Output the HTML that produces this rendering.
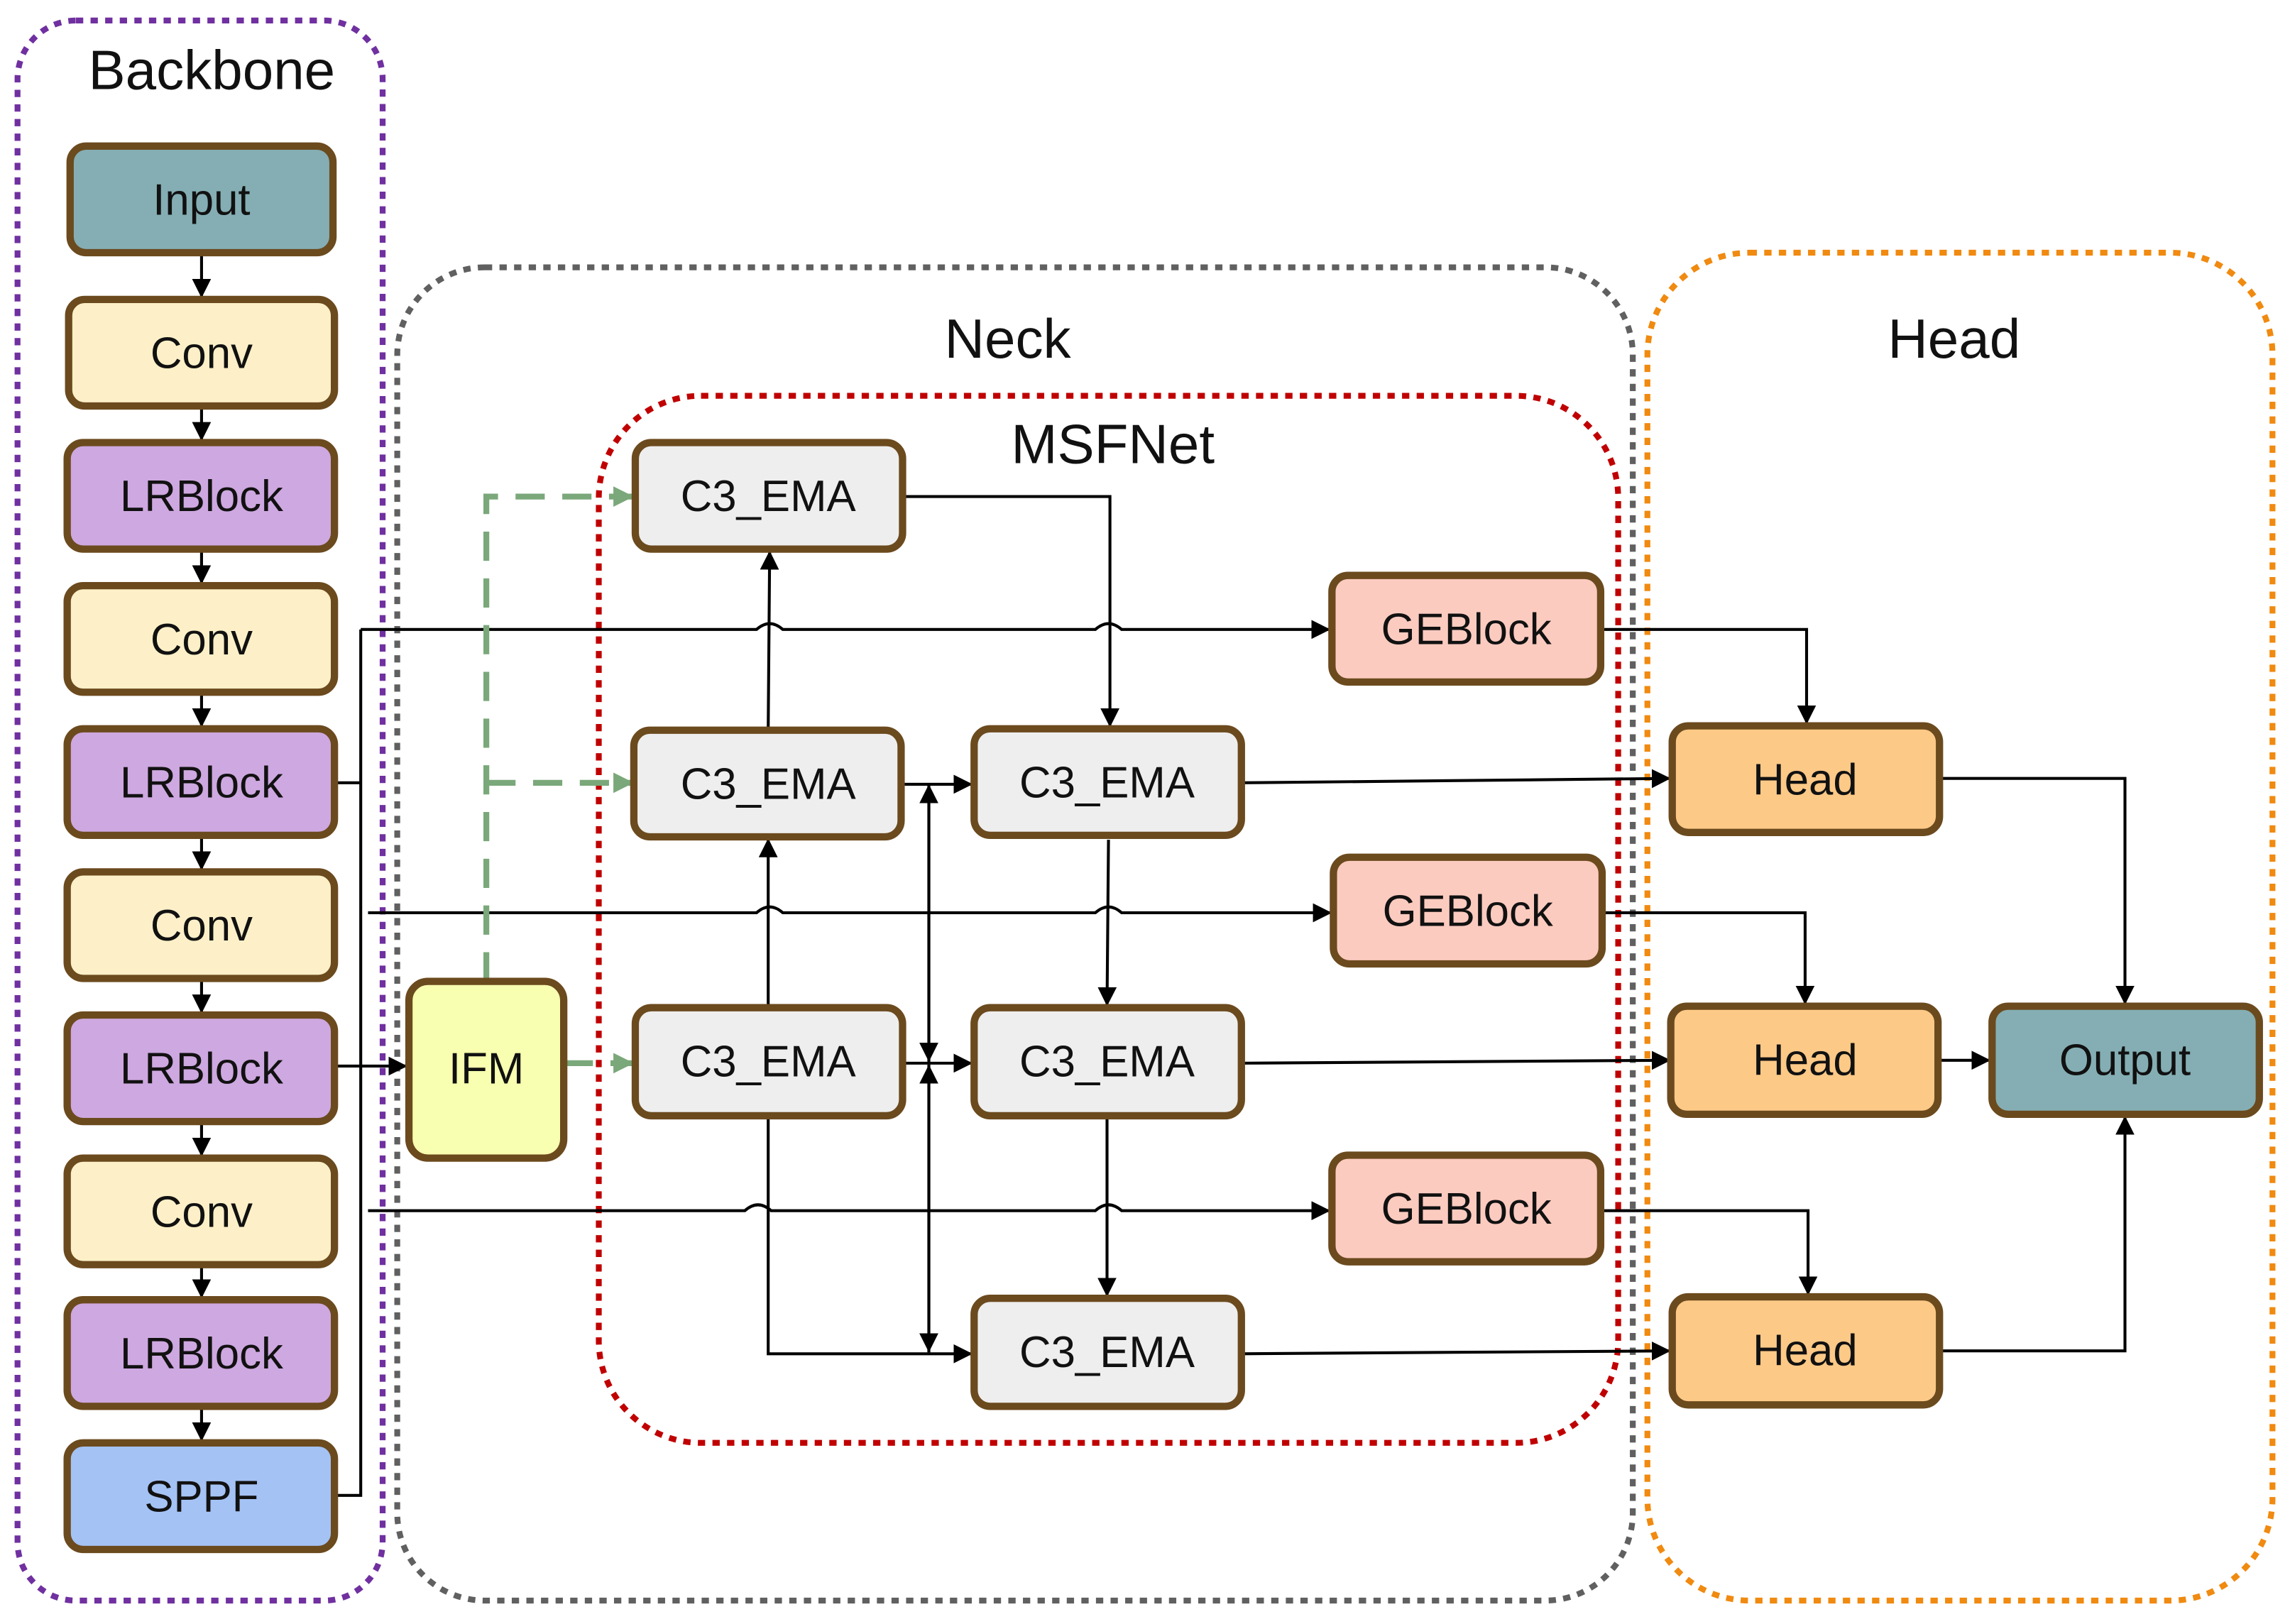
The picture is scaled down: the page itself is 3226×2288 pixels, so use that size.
<!DOCTYPE html>
<html><head><meta charset="utf-8"><style>
html,body{margin:0;padding:0;background:#fff}
svg{display:block}
text{font-family:"Liberation Sans",sans-serif;fill:#111}
</style></head><body>
<svg width="3226" height="2288" viewBox="0 0 1568 1112" xmlns="http://www.w3.org/2000/svg">
<defs>
<marker id="a" viewBox="0 0 10 10" refX="10" refY="5" markerWidth="13" markerHeight="13" markerUnits="userSpaceOnUse" orient="auto"><path d="M0,0L10,5L0,10z" fill="#000"/></marker>
<marker id="g" viewBox="0 0 10 10" refX="10" refY="5" markerWidth="14" markerHeight="14" markerUnits="userSpaceOnUse" orient="auto"><path d="M0,0L10,5L0,10z" fill="#7aa87a"/></marker>
</defs>
<rect x="12" y="14" width="250" height="1082" rx="40" fill="none" stroke="#7030a0" stroke-width="4" stroke-dasharray="5,5"/>
<rect x="272" y="183" width="846" height="913" rx="60" fill="none" stroke="#606060" stroke-width="4" stroke-dasharray="5,5"/>
<rect x="1128" y="173" width="428" height="923" rx="70" fill="none" stroke="#f08a10" stroke-width="4" stroke-dasharray="5,5"/>
<rect x="410" y="271" width="698" height="717" rx="70" fill="none" stroke="#c00000" stroke-width="4" stroke-dasharray="5,5"/>
<text x="145" y="61" font-size="38" text-anchor="middle">Backbone</text>
<text x="690" y="245" font-size="38" text-anchor="middle">Neck</text>
<text x="1338" y="245" font-size="38" text-anchor="middle">Head</text>
<text x="762" y="317" font-size="38" text-anchor="middle">MSFNet</text>

<g fill="none" stroke="#000" stroke-width="2">
<line x1="138" y1="173" x2="138" y2="204" marker-end="url(#a)"/>
<line x1="138" y1="278" x2="138" y2="302" marker-end="url(#a)"/>
<line x1="138" y1="376" x2="138" y2="400" marker-end="url(#a)"/>
<line x1="138" y1="474" x2="138" y2="498" marker-end="url(#a)"/>
<line x1="138" y1="572" x2="138" y2="596" marker-end="url(#a)"/>
<line x1="138" y1="670" x2="138" y2="694" marker-end="url(#a)"/>
<line x1="138" y1="768" x2="138" y2="792" marker-end="url(#a)"/>
<line x1="138" y1="866" x2="138" y2="889" marker-end="url(#a)"/>
<line x1="138" y1="963" x2="138" y2="987" marker-end="url(#a)"/>
<polyline points="229,536 247,536"/>
<polyline points="229,1024 247,1024 247,431"/>
<line x1="229" y1="730" x2="279" y2="730" marker-end="url(#a)"/>
<path d="M247,431 H518 Q527,423 536,431 H750 Q759,423 768,431 H911" marker-end="url(#a)"/>
<path d="M252,625 H518 Q527,617 536,625 H750 Q759,617 768,625 H912" marker-end="url(#a)"/>
<path d="M252,829 H510 Q519,821 528,829 H750 Q759,821 768,829 H911" marker-end="url(#a)"/>
<line x1="526" y1="500" x2="527" y2="377" marker-end="url(#a)"/>
<line x1="526" y1="690" x2="526" y2="574" marker-end="url(#a)"/>
<polyline points="618,340 760,340 760,498" marker-end="url(#a)"/>
<line x1="618" y1="537" x2="666" y2="537" marker-end="url(#a)"/>
<line x1="618" y1="728" x2="666" y2="728" marker-end="url(#a)"/>
<polyline points="526,764 526,927 666,927" marker-end="url(#a)"/>
<line x1="636" y1="727" x2="636" y2="537" marker-end="url(#a)"/>
<line x1="636" y1="537" x2="636" y2="727" marker-end="url(#a)"/>
<line x1="636" y1="729" x2="636" y2="926" marker-end="url(#a)"/>
<line x1="636" y1="926" x2="636" y2="729" marker-end="url(#a)"/>
<line x1="759" y1="575" x2="758" y2="689" marker-end="url(#a)"/>
<line x1="758" y1="764" x2="758" y2="888" marker-end="url(#a)"/>
<line x1="850" y1="536" x2="1144" y2="533" marker-end="url(#a)"/>
<line x1="850" y1="728" x2="1144" y2="726" marker-end="url(#a)"/>
<line x1="850" y1="927" x2="1144" y2="925" marker-end="url(#a)"/>
<polyline points="1096,431 1237,431 1237,496" marker-end="url(#a)"/>
<polyline points="1096,625 1236,625 1236,688" marker-end="url(#a)"/>
<polyline points="1096,829 1238,829 1238,887" marker-end="url(#a)"/>
<polyline points="1328,533 1455,533 1455,688" marker-end="url(#a)"/>
<line x1="1328" y1="726" x2="1363" y2="726" marker-end="url(#a)"/>
<polyline points="1328,925 1455,925 1455,764" marker-end="url(#a)"/>
</g>
<g fill="none" stroke="#7aa87a" stroke-width="4" stroke-dasharray="20,12">
<polyline points="333,672 333,340 434,340" marker-end="url(#g)"/>
<polyline points="333,536 434,536" marker-end="url(#g)"/>
<line x1="386" y1="728" x2="434" y2="728" marker-end="url(#g)"/>
</g>

<g stroke="#6b4a1e" stroke-width="5">
<rect x="48" y="100" width="180" height="73" rx="11" fill="#84aeb3"/>
<rect x="47" y="205" width="182" height="73" rx="11" fill="#fdf0c8"/>
<rect x="46" y="303" width="183" height="73" rx="11" fill="#cea8e0"/>
<rect x="46" y="401" width="183" height="73" rx="11" fill="#fdf0c8"/>
<rect x="46" y="499" width="183" height="73" rx="11" fill="#cea8e0"/>
<rect x="46" y="597" width="183" height="73" rx="11" fill="#fdf0c8"/>
<rect x="46" y="695" width="183" height="73" rx="11" fill="#cea8e0"/>
<rect x="46" y="793" width="183" height="73" rx="11" fill="#fdf0c8"/>
<rect x="46" y="890" width="183" height="73" rx="11" fill="#cea8e0"/>
<rect x="46" y="988" width="183" height="73" rx="11" fill="#a4c2f4"/>
<rect x="280" y="672" width="106" height="121" rx="13" fill="#f8ffb0"/>
<rect x="435" y="303" width="183" height="73" rx="11" fill="#eeeeee"/>
<rect x="434" y="500" width="183" height="73" rx="11" fill="#eeeeee"/>
<rect x="435" y="690" width="183" height="74" rx="11" fill="#eeeeee"/>
<rect x="667" y="499" width="183" height="73" rx="11" fill="#eeeeee"/>
<rect x="667" y="690" width="183" height="74" rx="11" fill="#eeeeee"/>
<rect x="667" y="889" width="183" height="74" rx="11" fill="#eeeeee"/>
<rect x="912" y="394" width="184" height="73" rx="11" fill="#fccbc0"/>
<rect x="913" y="587" width="184" height="73" rx="11" fill="#fccbc0"/>
<rect x="912" y="791" width="184" height="73" rx="11" fill="#fccbc0"/>
<rect x="1145" y="497" width="183" height="73" rx="11" fill="#fdc987"/>
<rect x="1144" y="689" width="183" height="74" rx="11" fill="#fdc987"/>
<rect x="1145" y="888" width="183" height="74" rx="11" fill="#fdc987"/>
<rect x="1364" y="689" width="183" height="74" rx="11" fill="#84aeb3"/>
</g>
<g font-size="30" text-anchor="middle">
<text x="138" y="147">Input</text>
<text x="138" y="252">Conv</text>
<text x="138" y="350">LRBlock</text>
<text x="138" y="448">Conv</text>
<text x="138" y="546">LRBlock</text>
<text x="138" y="644">Conv</text>
<text x="138" y="742">LRBlock</text>
<text x="138" y="840">Conv</text>
<text x="138" y="937">LRBlock</text>
<text x="138" y="1035">SPPF</text>
<text x="333" y="742">IFM</text>
<text x="526" y="350">C3_EMA</text>
<text x="526" y="547">C3_EMA</text>
<text x="526" y="737">C3_EMA</text>
<text x="758" y="546">C3_EMA</text>
<text x="758" y="737">C3_EMA</text>
<text x="758" y="936">C3_EMA</text>
<text x="1004" y="441">GEBlock</text>
<text x="1005" y="634">GEBlock</text>
<text x="1004" y="838">GEBlock</text>
<text x="1236" y="544">Head</text>
<text x="1236" y="736">Head</text>
<text x="1236" y="935">Head</text>
<text x="1455" y="736">Output</text>
</g>
</svg>
</body></html>
